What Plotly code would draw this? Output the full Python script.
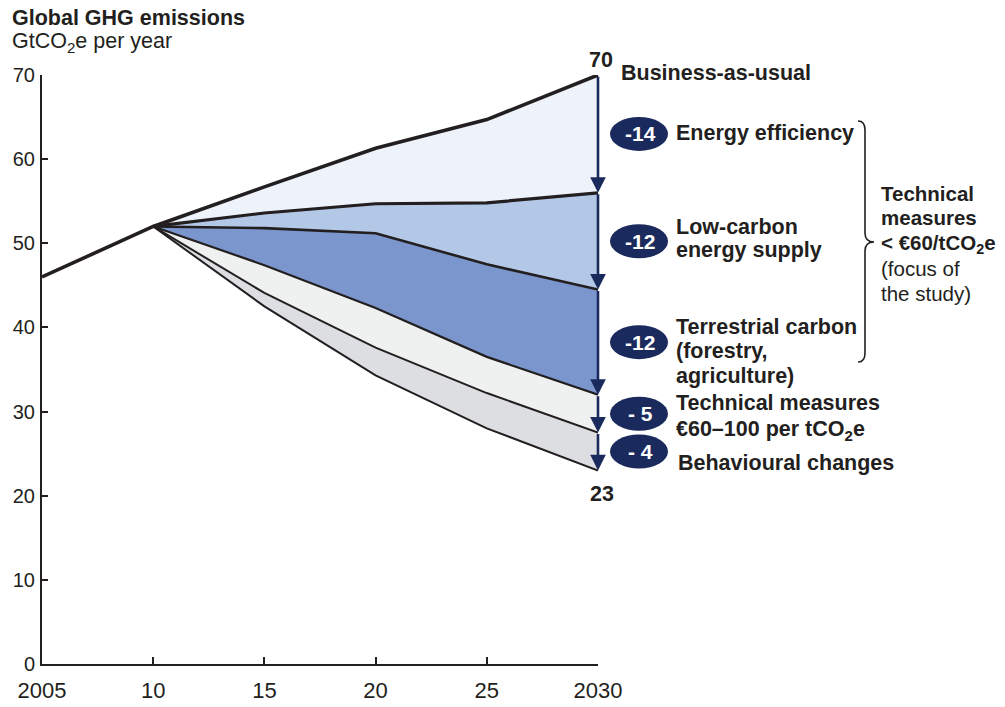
import plotly.graph_objects as go

# emissions pathways, GtCO2e per year
years = [2005, 2010, 2015, 2020, 2025, 2030]
bau = [46, 52, 56.7, 61.3, 64.7, 70]
# lines below start at 2010
after_efficiency = [52, 53.6, 54.7, 54.8, 56]
after_low_carbon = [52, 51.8, 51.2, 47.5, 44.5]
after_terrestrial = [52, 47.4, 42.3, 36.5, 32]
after_technical = [52, 44.1, 37.6, 32.2, 27.5]
after_behaviour = [52, 42.5, 34.3, 28.0, 23]

x_tick_vals = years
x_tick_text = ['2005', '10', '15', '20', '25', '2030']
y_tick_vals = [0, 10, 20, 30, 40, 50, 60, 70]

reduction_labels = ['-14', '-12', '-12', '- 5', '- 4']

FONT = 'Arial, Liberation Sans, sans-serif'
INK = '#231F20'
NAVY = '#1B2A5C'
TEXT_SIZE = 21.5

# plot area in pixels
L, R, T, B = 42, 598, 75, 664


def px_x(p):
    return (p - L) / (R - L)


def px_y(p):
    return (B - p) / (B - T)


fig = go.Figure()

later_years = years[1:]
bau_later = bau[1:]

# filled bands, bottom up
fig.add_trace(go.Scatter(x=later_years, y=after_behaviour, mode='lines', line=dict(width=0),
                         hoverinfo='skip', showlegend=False))
bands = [
    (after_technical, '#DCDEE1'),
    (after_terrestrial, '#EFF1F0'),
    (after_low_carbon, '#7B96CC'),
    (after_efficiency, '#B3C8E7'),
    (bau_later, '#EEF2FA'),
]
for values, colour in bands:
    fig.add_trace(go.Scatter(x=later_years, y=values, mode='lines', line=dict(width=0),
                             fill='tonexty', fillcolor=colour, hoverinfo='skip', showlegend=False))

# outlines
outlines = [
    (later_years, after_behaviour, 2),
    (later_years, after_technical, 2),
    (later_years, after_terrestrial, 2.2),
    (later_years, after_low_carbon, 2.6),
    (later_years, after_efficiency, 3.2),
    (years, bau, 3.6),
]
for xs, values, width in outlines:
    fig.add_trace(go.Scatter(x=xs, y=values, mode='lines', line=dict(color=INK, width=width),
                             hoverinfo='skip', showlegend=False))

# arrows down the 2030 edge
levels = [bau[-1], after_efficiency[-1], after_low_carbon[-1], after_terrestrial[-1],
          after_technical[-1], after_behaviour[-1]]
annotations = []
shapes = []
for i in range(5):
    top, bottom = levels[i], levels[i + 1]
    annotations.append(dict(x=2030, y=bottom, ax=2030, ay=top, xref='x', yref='y', axref='x', ayref='y',
                            showarrow=True, arrowhead=2, arrowsize=1.2, arrowwidth=2.6, arrowcolor=NAVY,
                            standoff=0, text=''))
    mid = (top + bottom) / 2
    shapes.append(dict(type='circle', xref='paper', yref='y', xsizemode='pixel', ysizemode='pixel',
                       xanchor=1, yanchor=mid, x0=12, x1=70, y0=-17, y1=17,
                       fillcolor=NAVY, line=dict(width=0)))
    annotations.append(dict(x=px_x(640), y=mid, xref='paper', yref='y', showarrow=False,
                            xanchor='center', yanchor='middle',
                            text='<b>{}</b>'.format(reduction_labels[i]),
                            font=dict(family=FONT, size=21, color='white')))

annotations.append(dict(x=2030, y=bau[-1], xref='x', yref='y', showarrow=False, text='<b>70</b>',
                        xanchor='center', yanchor='bottom', xshift=3, yshift=1,
                        font=dict(family=FONT, size=TEXT_SIZE, color=INK)))
annotations.append(dict(x=2030, y=after_behaviour[-1], xref='x', yref='y', showarrow=False, text='<b>23</b>',
                        xanchor='center', yanchor='top', xshift=4, yshift=-10,
                        font=dict(family=FONT, size=TEXT_SIZE, color=INK)))

# one annotation per text line, to keep the tight line spacing
labels = [
    (619, 73, '<b>Business-as-usual</b>', TEXT_SIZE),
    (674, 133, '<b>Energy efficiency</b>', TEXT_SIZE),
    (674, 227, '<b>Low-carbon</b>', TEXT_SIZE),
    (674, 250, '<b>energy supply</b>', TEXT_SIZE),
    (674, 327, '<b>Terrestrial carbon</b>', TEXT_SIZE),
    (674, 351, '<b>(forestry,</b>', TEXT_SIZE),
    (674, 376, '<b>agriculture)</b>', TEXT_SIZE),
    (674, 403, '<b>Technical measures</b>', TEXT_SIZE),
    (674, 430, '<b>€60–100 per tCO<sub>2</sub>e</b>', TEXT_SIZE),
    (676, 463, '<b>Behavioural changes</b>', TEXT_SIZE),
    (879, 193, '<b>Technical</b>', 20.5),
    (879, 218, '<b>measures</b>', 20.5),
    (879, 244, '<b>&lt; €60/tCO<sub>2</sub>e</b>', 20.5),
    (879, 268, '(focus of', 20.5),
    (879, 293, 'the study)', 20.5),
    (10, 18, '<b>Global GHG emissions</b>', TEXT_SIZE),
    (10, 43, 'GtCO<sub>2</sub>e per year', TEXT_SIZE),
]
for x, y, text, size in labels:
    annotations.append(dict(x=px_x(x), y=px_y(y), xref='paper', yref='paper', showarrow=False,
                            xanchor='left', yanchor='middle', align='left', text=text,
                            font=dict(family=FONT, size=size, color=INK)))

# curly brace grouping the technical measures
top, bottom, mid = 121, 362, 242
x_end, x_stem, x_tip, r = 858, 865, 874, 9
brace = ('M {},{} Q {},{} {},{} L {},{} Q {},{} {},{} Q {},{} {},{} L {},{} Q {},{} {},{}'.format(
    px_x(x_end), px_y(top),
    px_x(x_stem), px_y(top), px_x(x_stem), px_y(top + r),
    px_x(x_stem), px_y(mid - r),
    px_x(x_stem), px_y(mid), px_x(x_tip), px_y(mid),
    px_x(x_stem), px_y(mid), px_x(x_stem), px_y(mid + r),
    px_x(x_stem), px_y(bottom - r),
    px_x(x_stem), px_y(bottom), px_x(x_end), px_y(bottom)))
shapes.append(dict(type='path', xref='paper', yref='paper', path=brace, line=dict(color=INK, width=1.6)))

fig.update_layout(
    width=1005, height=707,
    margin=dict(l=L, r=1005 - R, t=T, b=707 - B),
    paper_bgcolor='white', plot_bgcolor='white',
    showlegend=False,
    annotations=annotations,
    shapes=shapes,
    font=dict(family=FONT, color=INK),
)
fig.update_xaxes(range=[2005, 2030], tickvals=x_tick_vals, ticktext=x_tick_text,
                 ticks='inside', ticklen=7, tickwidth=1.5, tickcolor=INK,
                 showline=True, linewidth=2, linecolor=INK, showgrid=False, zeroline=False,
                 tickfont=dict(family=FONT, size=22, color=INK), automargin=False, ticklabelstandoff=6)
fig.update_yaxes(range=[0, 70], tickvals=y_tick_vals,
                 ticks='inside', ticklen=6, tickwidth=1.5, tickcolor=INK,
                 showline=True, linewidth=2, linecolor=INK, showgrid=False, zeroline=False,
                 tickfont=dict(family=FONT, size=20, color=INK), automargin=False, ticklabelstandoff=1)

fig.write_html("out.html", config={'displayModeBar': False},
               post_script="document.body.style.margin='0px';")
